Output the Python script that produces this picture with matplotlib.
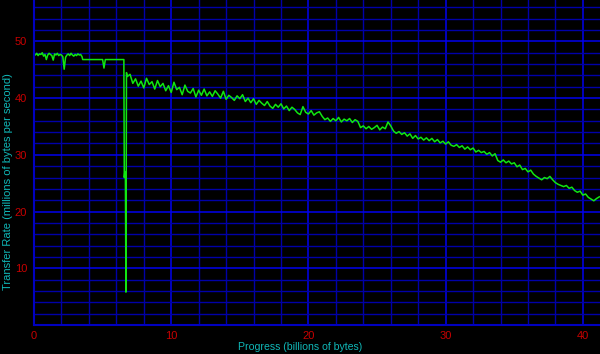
import numpy as np
import matplotlib
matplotlib.use('Agg')
import matplotlib.pyplot as plt
from matplotlib.ticker import MultipleLocator

# Start of the drive: noisy plateau, x = 0 .. 3.5 every 0.1
start_rate = [47.8, 47.6, 47.9, 47.5, 47.8, 47.7, 48.0, 47.4, 47.7, 46.8,
              47.6, 47.9, 47.7, 47.5, 46.7, 47.8, 47.6, 47.9, 47.5, 47.7,
              47.6, 47.3, 45.1, 47.2, 47.6, 47.8, 47.5, 47.9, 47.6, 47.4,
              47.7, 47.5, 47.8, 47.6, 47.7, 47.3]

# Flat section and the big drop near 6.6
flat_x = [3.55, 5.0, 5.1, 5.2, 6.55, 6.58, 6.62, 6.66, 6.70, 6.74]
flat_rate = [46.8, 46.8, 45.3, 46.8, 46.8, 26.0, 27.0, 26.2, 5.8, 44.5]

# Rest of the drive, x = 6.8 .. 41.2 every 0.2
tail_rate = [43.8, 44.2, 42.6, 43.4, 42.1, 43.0, 41.8, 43.5, 42.4, 42.9,
             41.6, 43.1, 42.0, 42.6, 41.3, 42.2, 41.0, 42.8, 41.5, 41.9,
             40.6, 42.3, 41.2, 40.9, 41.7, 40.2, 41.4, 40.5, 41.6, 40.4,
             41.1, 40.3, 41.3, 40.7, 40.0, 41.2, 39.8, 40.5, 40.1, 39.6,
             40.4, 39.9, 40.6, 39.4, 40.0, 39.2, 39.9, 38.9, 39.6, 39.1,
             38.7, 39.4, 38.6, 38.2, 38.9, 38.4, 39.0, 38.1, 38.6, 37.8,
             38.4, 38.0, 37.4, 37.1, 38.5, 37.5, 37.2, 37.8, 37.0, 37.4,
             37.6, 36.8, 36.2, 36.5, 35.9, 36.4, 36.0, 36.6, 35.8, 36.3,
             36.0, 36.4, 35.7, 36.2, 35.9, 34.8, 35.1, 34.6, 35.0, 34.5,
             34.8, 35.2, 34.4, 34.9, 34.6, 35.8, 35.1, 34.2, 33.8, 34.1,
             33.6, 33.9, 33.3, 33.7, 32.9, 33.4, 32.8, 33.1, 32.6, 33.0,
             32.5, 32.9, 32.3, 32.7, 32.1, 32.4, 31.9, 32.3, 31.7, 31.5,
             31.8, 31.3, 31.6, 31.0, 31.4, 30.9, 31.2, 30.5, 30.8, 30.4,
             30.6, 30.1, 30.4, 29.8, 30.2, 29.0, 28.7, 29.1, 28.6, 28.9,
             28.4, 28.6, 27.9, 28.2, 27.4, 27.6, 27.0, 27.3, 26.6, 26.2,
             25.9, 25.6, 26.0, 25.8, 26.2, 25.6, 25.1, 24.8, 24.6, 24.4,
             24.6, 24.1, 24.3, 23.7, 23.4, 23.6, 22.9, 23.1, 22.5, 22.2,
             21.9, 22.3, 22.6]

x_ticks = [0, 10, 20, 30, 40]
y_ticks = [10, 20, 30, 40, 50]

start_x = np.linspace(0, 3.5, len(start_rate))
tail_x = np.linspace(6.8, 41.2, len(tail_rate))
x = np.concatenate([start_x, flat_x, tail_x])
y = np.concatenate([start_rate, flat_rate, tail_rate])

fig = plt.figure(figsize=(6, 3.54), dpi=100, facecolor='black')
ax = fig.add_axes([34/600, 29/354, 566/600, 325/354], facecolor='black')

# grid: dark blue every 2, brighter blue every 10
ax.xaxis.set_minor_locator(MultipleLocator(2))
ax.yaxis.set_minor_locator(MultipleLocator(2))
ax.set_xticks(x_ticks)
ax.set_yticks(y_ticks)
ax.grid(which='minor', color='#0000a8', lw=1.0)
ax.grid(which='major', color='#0000f0', lw=1.1)
ax.set_axisbelow(True)

ax.plot(x, y, color='#11e611', lw=1.1)

ax.set_xlim(0, 41.25)
ax.set_ylim(0, 57.3)

for side in ['top', 'right']:
    ax.spines[side].set_visible(False)
for side in ['left', 'bottom']:
    ax.spines[side].set_color('#0000c0')
    ax.spines[side].set_linewidth(1.5)

ax.tick_params(which='both', length=0, colors='#c80000', labelsize=8)
ax.tick_params(axis='x', pad=4)
ax.tick_params(axis='y', pad=5)
for lab in ax.get_xticklabels() + ax.get_yticklabels():
    lab.set_family('Liberation Sans')

fig.text(300/600, 7/354, 'Progress (billions of bytes)', color='#10b8b8',
         fontsize=7.6, family='Liberation Sans', ha='center', va='center')
fig.text(8/600, 172/354, 'Transfer Rate (millions of bytes per second)',
         color='#10b8b8', fontsize=8, family='Liberation Sans',
         rotation=90, ha='center', va='center')

fig.savefig('out.png', dpi=100, facecolor='black')
